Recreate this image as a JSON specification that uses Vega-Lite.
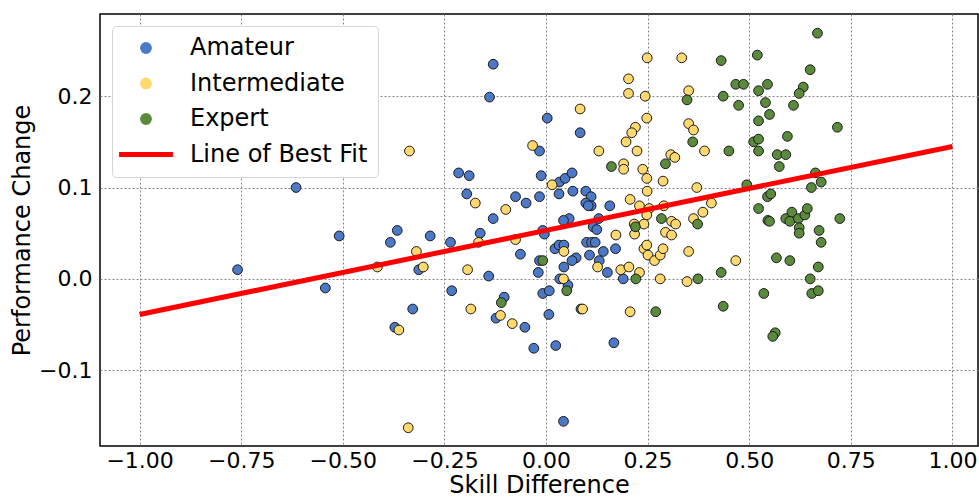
{
  "$schema": "https://vega.github.io/schema/vega-lite/v6.json",
  "autosize": {"type": "none"},
  "padding": {"left": 100, "top": 14, "right": 1, "bottom": 54},
  "width": 878,
  "height": 432,
  "background": "white",
  "config": {
    "font": "DejaVu Sans",
    "view": {"stroke": "black", "strokeWidth": 1.5},
    "axis": {
      "labelFont": "DejaVu Sans",
      "titleFont": "DejaVu Sans",
      "labelFontSize": 22,
      "titleFontSize": 24,
      "titleFontWeight": "normal",
      "labelColor": "black",
      "titleColor": "black",
      "domain": false,
      "ticks": false,
      "grid": true,
      "gridDash": [2, 2],
      "gridColor": "#888888",
      "gridWidth": 1
    }
  },
  "datasets": {
    "pts": [
      {"x": -0.615, "y": 0.100, "group": "Amateur"},
      {"x": -0.130, "y": 0.235, "group": "Amateur"},
      {"x": -0.139, "y": 0.199, "group": "Amateur"},
      {"x": 0.003, "y": 0.176, "group": "Amateur"},
      {"x": -0.016, "y": 0.140, "group": "Amateur"},
      {"x": -0.215, "y": 0.116, "group": "Amateur"},
      {"x": -0.189, "y": 0.113, "group": "Amateur"},
      {"x": -0.012, "y": 0.113, "group": "Amateur"},
      {"x": -0.195, "y": 0.093, "group": "Amateur"},
      {"x": -0.075, "y": 0.090, "group": "Amateur"},
      {"x": -0.049, "y": 0.083, "group": "Amateur"},
      {"x": -0.016, "y": 0.090, "group": "Amateur"},
      {"x": -0.130, "y": 0.066, "group": "Amateur"},
      {"x": -0.366, "y": 0.053, "group": "Amateur"},
      {"x": -0.509, "y": 0.047, "group": "Amateur"},
      {"x": -0.285, "y": 0.047, "group": "Amateur"},
      {"x": -0.162, "y": 0.050, "group": "Amateur"},
      {"x": -0.008, "y": 0.053, "group": "Amateur"},
      {"x": -0.004, "y": 0.049, "group": "Amateur"},
      {"x": -0.383, "y": 0.040, "group": "Amateur"},
      {"x": -0.235, "y": 0.040, "group": "Amateur"},
      {"x": -0.313, "y": 0.010, "group": "Amateur"},
      {"x": -0.063, "y": 0.027, "group": "Amateur"},
      {"x": -0.016, "y": 0.020, "group": "Amateur"},
      {"x": -0.019, "y": 0.007, "group": "Amateur"},
      {"x": -0.141, "y": 0.003, "group": "Amateur"},
      {"x": -0.543, "y": -0.010, "group": "Amateur"},
      {"x": -0.232, "y": -0.013, "group": "Amateur"},
      {"x": -0.008, "y": -0.016, "group": "Amateur"},
      {"x": 0.008, "y": -0.013, "group": "Amateur"},
      {"x": -0.328, "y": -0.033, "group": "Amateur"},
      {"x": -0.103, "y": -0.020, "group": "Amateur"},
      {"x": -0.123, "y": -0.043, "group": "Amateur"},
      {"x": -0.052, "y": -0.053, "group": "Amateur"},
      {"x": -0.372, "y": -0.053, "group": "Amateur"},
      {"x": -0.030, "y": -0.076, "group": "Amateur"},
      {"x": 0.007, "y": -0.039, "group": "Amateur"},
      {"x": -0.759, "y": 0.010, "group": "Amateur"},
      {"x": 0.084, "y": 0.160, "group": "Amateur"},
      {"x": 0.033, "y": 0.106, "group": "Amateur"},
      {"x": 0.047, "y": 0.110, "group": "Amateur"},
      {"x": 0.064, "y": 0.116, "group": "Amateur"},
      {"x": 0.032, "y": 0.093, "group": "Amateur"},
      {"x": 0.066, "y": 0.096, "group": "Amateur"},
      {"x": 0.098, "y": 0.096, "group": "Amateur"},
      {"x": 0.111, "y": 0.090, "group": "Amateur"},
      {"x": 0.098, "y": 0.083, "group": "Amateur"},
      {"x": 0.111, "y": 0.080, "group": "Amateur"},
      {"x": 0.104, "y": 0.080, "group": "Amateur"},
      {"x": 0.157, "y": 0.080, "group": "Amateur"},
      {"x": 0.130, "y": 0.066, "group": "Amateur"},
      {"x": 0.116, "y": 0.057, "group": "Amateur"},
      {"x": 0.125, "y": 0.054, "group": "Amateur"},
      {"x": 0.057, "y": 0.066, "group": "Amateur"},
      {"x": 0.043, "y": 0.064, "group": "Amateur"},
      {"x": 0.100, "y": 0.040, "group": "Amateur"},
      {"x": 0.112, "y": 0.040, "group": "Amateur"},
      {"x": 0.121, "y": 0.040, "group": "Amateur"},
      {"x": 0.022, "y": 0.033, "group": "Amateur"},
      {"x": 0.032, "y": 0.037, "group": "Amateur"},
      {"x": 0.044, "y": 0.037, "group": "Amateur"},
      {"x": 0.141, "y": 0.030, "group": "Amateur"},
      {"x": 0.171, "y": 0.033, "group": "Amateur"},
      {"x": 0.107, "y": 0.026, "group": "Amateur"},
      {"x": 0.074, "y": 0.023, "group": "Amateur"},
      {"x": 0.064, "y": 0.020, "group": "Amateur"},
      {"x": 0.131, "y": 0.020, "group": "Amateur"},
      {"x": 0.044, "y": 0.013, "group": "Amateur"},
      {"x": 0.151, "y": 0.007, "group": "Amateur"},
      {"x": 0.034, "y": 0.000, "group": "Amateur"},
      {"x": 0.054, "y": -0.007, "group": "Amateur"},
      {"x": 0.190, "y": 0.000, "group": "Amateur"},
      {"x": 0.086, "y": -0.033, "group": "Amateur"},
      {"x": 0.024, "y": -0.073, "group": "Amateur"},
      {"x": 0.167, "y": -0.070, "group": "Amateur"},
      {"x": 0.043, "y": -0.156, "group": "Amateur"},
      {"x": -0.336, "y": 0.140, "group": "Intermediate"},
      {"x": -0.033, "y": 0.146, "group": "Intermediate"},
      {"x": 0.015, "y": 0.103, "group": "Intermediate"},
      {"x": -0.174, "y": 0.083, "group": "Intermediate"},
      {"x": -0.099, "y": 0.076, "group": "Intermediate"},
      {"x": -0.166, "y": 0.040, "group": "Intermediate"},
      {"x": -0.075, "y": 0.043, "group": "Intermediate"},
      {"x": -0.319, "y": 0.030, "group": "Intermediate"},
      {"x": -0.415, "y": 0.013, "group": "Intermediate"},
      {"x": -0.302, "y": 0.013, "group": "Intermediate"},
      {"x": -0.193, "y": 0.010, "group": "Intermediate"},
      {"x": -0.185, "y": -0.033, "group": "Intermediate"},
      {"x": -0.112, "y": -0.040, "group": "Intermediate"},
      {"x": -0.083, "y": -0.049, "group": "Intermediate"},
      {"x": -0.362, "y": -0.056, "group": "Intermediate"},
      {"x": -0.339, "y": -0.163, "group": "Intermediate"},
      {"x": 0.249, "y": 0.242, "group": "Intermediate"},
      {"x": 0.334, "y": 0.242, "group": "Intermediate"},
      {"x": 0.203, "y": 0.219, "group": "Intermediate"},
      {"x": 0.203, "y": 0.203, "group": "Intermediate"},
      {"x": 0.244, "y": 0.200, "group": "Intermediate"},
      {"x": 0.351, "y": 0.206, "group": "Intermediate"},
      {"x": 0.084, "y": 0.186, "group": "Intermediate"},
      {"x": 0.248, "y": 0.176, "group": "Intermediate"},
      {"x": 0.220, "y": 0.166, "group": "Intermediate"},
      {"x": 0.211, "y": 0.160, "group": "Intermediate"},
      {"x": 0.197, "y": 0.150, "group": "Intermediate"},
      {"x": 0.351, "y": 0.170, "group": "Intermediate"},
      {"x": 0.363, "y": 0.163, "group": "Intermediate"},
      {"x": 0.390, "y": 0.140, "group": "Intermediate"},
      {"x": 0.130, "y": 0.140, "group": "Intermediate"},
      {"x": 0.224, "y": 0.140, "group": "Intermediate"},
      {"x": 0.307, "y": 0.136, "group": "Intermediate"},
      {"x": 0.317, "y": 0.133, "group": "Intermediate"},
      {"x": 0.191, "y": 0.126, "group": "Intermediate"},
      {"x": 0.191, "y": 0.120, "group": "Intermediate"},
      {"x": 0.238, "y": 0.120, "group": "Intermediate"},
      {"x": 0.248, "y": 0.110, "group": "Intermediate"},
      {"x": 0.288, "y": 0.107, "group": "Intermediate"},
      {"x": 0.249, "y": 0.096, "group": "Intermediate"},
      {"x": 0.371, "y": 0.100, "group": "Intermediate"},
      {"x": 0.207, "y": 0.087, "group": "Intermediate"},
      {"x": 0.230, "y": 0.080, "group": "Intermediate"},
      {"x": 0.290, "y": 0.080, "group": "Intermediate"},
      {"x": 0.254, "y": 0.077, "group": "Intermediate"},
      {"x": 0.407, "y": 0.083, "group": "Intermediate"},
      {"x": 0.386, "y": 0.073, "group": "Intermediate"},
      {"x": 0.363, "y": 0.066, "group": "Intermediate"},
      {"x": 0.309, "y": 0.063, "group": "Intermediate"},
      {"x": 0.319, "y": 0.060, "group": "Intermediate"},
      {"x": 0.248, "y": 0.070, "group": "Intermediate"},
      {"x": 0.241, "y": 0.060, "group": "Intermediate"},
      {"x": 0.217, "y": 0.060, "group": "Intermediate"},
      {"x": 0.218, "y": 0.049, "group": "Intermediate"},
      {"x": 0.172, "y": 0.048, "group": "Intermediate"},
      {"x": 0.294, "y": 0.051, "group": "Intermediate"},
      {"x": 0.309, "y": 0.048, "group": "Intermediate"},
      {"x": 0.044, "y": 0.030, "group": "Intermediate"},
      {"x": 0.127, "y": 0.013, "group": "Intermediate"},
      {"x": 0.184, "y": 0.010, "group": "Intermediate"},
      {"x": 0.204, "y": 0.013, "group": "Intermediate"},
      {"x": 0.230, "y": 0.007, "group": "Intermediate"},
      {"x": 0.241, "y": 0.033, "group": "Intermediate"},
      {"x": 0.248, "y": 0.037, "group": "Intermediate"},
      {"x": 0.251, "y": 0.026, "group": "Intermediate"},
      {"x": 0.267, "y": 0.020, "group": "Intermediate"},
      {"x": 0.281, "y": 0.026, "group": "Intermediate"},
      {"x": 0.288, "y": 0.033, "group": "Intermediate"},
      {"x": 0.351, "y": 0.030, "group": "Intermediate"},
      {"x": 0.467, "y": 0.020, "group": "Intermediate"},
      {"x": 0.043, "y": 0.000, "group": "Intermediate"},
      {"x": 0.281, "y": 0.000, "group": "Intermediate"},
      {"x": 0.347, "y": -0.003, "group": "Intermediate"},
      {"x": 0.090, "y": -0.033, "group": "Intermediate"},
      {"x": 0.207, "y": -0.036, "group": "Intermediate"},
      {"x": -0.008, "y": 0.020, "group": "Expert"},
      {"x": -0.110, "y": -0.026, "group": "Expert"},
      {"x": 0.431, "y": 0.239, "group": "Expert"},
      {"x": 0.520, "y": 0.245, "group": "Expert"},
      {"x": 0.347, "y": 0.196, "group": "Expert"},
      {"x": 0.436, "y": 0.200, "group": "Expert"},
      {"x": 0.467, "y": 0.213, "group": "Expert"},
      {"x": 0.486, "y": 0.213, "group": "Expert"},
      {"x": 0.474, "y": 0.190, "group": "Expert"},
      {"x": 0.523, "y": 0.206, "group": "Expert"},
      {"x": 0.545, "y": 0.213, "group": "Expert"},
      {"x": 0.540, "y": 0.193, "group": "Expert"},
      {"x": 0.550, "y": 0.180, "group": "Expert"},
      {"x": 0.523, "y": 0.173, "group": "Expert"},
      {"x": 0.361, "y": 0.150, "group": "Expert"},
      {"x": 0.511, "y": 0.150, "group": "Expert"},
      {"x": 0.523, "y": 0.153, "group": "Expert"},
      {"x": 0.523, "y": 0.140, "group": "Expert"},
      {"x": 0.450, "y": 0.140, "group": "Expert"},
      {"x": 0.294, "y": 0.126, "group": "Expert"},
      {"x": 0.161, "y": 0.123, "group": "Expert"},
      {"x": 0.494, "y": 0.103, "group": "Expert"},
      {"x": 0.523, "y": 0.077, "group": "Expert"},
      {"x": 0.545, "y": 0.090, "group": "Expert"},
      {"x": 0.546, "y": 0.064, "group": "Expert"},
      {"x": 0.284, "y": 0.066, "group": "Expert"},
      {"x": 0.373, "y": 0.060, "group": "Expert"},
      {"x": 0.220, "y": 0.057, "group": "Expert"},
      {"x": 0.051, "y": -0.013, "group": "Expert"},
      {"x": 0.221, "y": 0.000, "group": "Expert"},
      {"x": 0.374, "y": 0.000, "group": "Expert"},
      {"x": 0.431, "y": 0.007, "group": "Expert"},
      {"x": 0.270, "y": -0.036, "group": "Expert"},
      {"x": 0.436, "y": -0.030, "group": "Expert"},
      {"x": 0.536, "y": -0.016, "group": "Expert"},
      {"x": 0.668, "y": 0.269, "group": "Expert"},
      {"x": 0.650, "y": 0.229, "group": "Expert"},
      {"x": 0.633, "y": 0.210, "group": "Expert"},
      {"x": 0.623, "y": 0.203, "group": "Expert"},
      {"x": 0.609, "y": 0.190, "group": "Expert"},
      {"x": 0.717, "y": 0.166, "group": "Expert"},
      {"x": 0.594, "y": 0.156, "group": "Expert"},
      {"x": 0.569, "y": 0.136, "group": "Expert"},
      {"x": 0.590, "y": 0.136, "group": "Expert"},
      {"x": 0.574, "y": 0.123, "group": "Expert"},
      {"x": 0.663, "y": 0.116, "group": "Expert"},
      {"x": 0.677, "y": 0.106, "group": "Expert"},
      {"x": 0.653, "y": 0.100, "group": "Expert"},
      {"x": 0.553, "y": 0.093, "group": "Expert"},
      {"x": 0.550, "y": 0.063, "group": "Expert"},
      {"x": 0.590, "y": 0.066, "group": "Expert"},
      {"x": 0.605, "y": 0.073, "group": "Expert"},
      {"x": 0.600, "y": 0.063, "group": "Expert"},
      {"x": 0.621, "y": 0.066, "group": "Expert"},
      {"x": 0.637, "y": 0.070, "group": "Expert"},
      {"x": 0.643, "y": 0.077, "group": "Expert"},
      {"x": 0.623, "y": 0.056, "group": "Expert"},
      {"x": 0.623, "y": 0.050, "group": "Expert"},
      {"x": 0.672, "y": 0.053, "group": "Expert"},
      {"x": 0.723, "y": 0.066, "group": "Expert"},
      {"x": 0.677, "y": 0.040, "group": "Expert"},
      {"x": 0.567, "y": 0.023, "group": "Expert"},
      {"x": 0.600, "y": 0.020, "group": "Expert"},
      {"x": 0.670, "y": 0.013, "group": "Expert"},
      {"x": 0.650, "y": 0.000, "group": "Expert"},
      {"x": 0.654, "y": -0.016, "group": "Expert"},
      {"x": 0.670, "y": -0.013, "group": "Expert"},
      {"x": 0.564, "y": -0.059, "group": "Expert"},
      {"x": 0.558, "y": -0.063, "group": "Expert"}
    ],
    "fit": [
      {"x": -1.0, "y": -0.039, "group": "Line of Best Fit"},
      {"x": 1.0, "y": 0.145, "group": "Line of Best Fit"}
    ]
  },
  "layer": [
    {
      "mark": {"type": "rule", "color": "#666666", "strokeWidth": 2},
      "encoding": {"x": {"datum": 0, "type": "quantitative", "scale": {"domain": [-1.0975, 1.063], "nice": false, "zero": false}}}
    },
    {
      "mark": {"type": "rule", "color": "#666666", "strokeWidth": 2},
      "encoding": {"y": {"datum": 0, "type": "quantitative", "scale": {"domain": [-0.183, 0.29], "nice": false, "zero": false}}}
    },
    {
      "data": {"name": "pts"},
      "mark": {"type": "circle", "size": 95, "opacity": 1, "stroke": "#1a1a1a", "strokeWidth": 1},
      "encoding": {
        "x": {
          "field": "x", "type": "quantitative",
          "scale": {"domain": [-1.0975, 1.063], "nice": false, "zero": false},
          "axis": {"title": "Skill Difference", "values": [-1, -0.75, -0.5, -0.25, 0, 0.25, 0.5, 0.75, 1], "format": ".2f", "labelPadding": 4, "titlePadding": 2}
        },
        "y": {
          "field": "y", "type": "quantitative",
          "scale": {"domain": [-0.183, 0.29], "nice": false, "zero": false},
          "axis": {"title": "Performance Change", "values": [-0.1, 0, 0.1, 0.2], "format": ".1f", "labelPadding": 8, "titlePadding": 4}
        },
        "color": {
          "field": "group", "type": "nominal",
          "scale": {"domain": ["Amateur", "Intermediate", "Expert", "Line of Best Fit"], "range": ["#4C78C8", "#FFD86E", "#5A8A3C", "#FF0000"]},
          "legend": {
            "title": null, "orient": "top-left", "offset": 12, "padding": 10, "rowPadding": 11.5,
            "symbolOffset": 12, "labelOffset": 32, "labelFontSize": 24, "labelFont": "DejaVu Sans", "labelColor": "black", "labelLimit": 0,
            "fillColor": "white", "strokeColor": "#d6d6d6", "cornerRadius": 4,
            "symbolOpacity": 1,
            "symbolType": {"expr": "datum.value === 'Line of Best Fit' ? 'stroke' : 'circle'"},
            "symbolSize": {"expr": "datum.value === 'Line of Best Fit' ? 2900 : 110"},
            "symbolStrokeWidth": {"expr": "datum.value === 'Line of Best Fit' ? 5 : 1.3"},
            "symbolStrokeColor": {"expr": "datum.value === 'Line of Best Fit' ? '#ff0000' : '#111111'"}
          }
        }
      }
    },
    {
      "data": {"name": "fit"},
      "mark": {"type": "line", "strokeWidth": 5},
      "encoding": {
        "x": {"field": "x", "type": "quantitative"},
        "y": {"field": "y", "type": "quantitative"},
        "color": {"field": "group", "type": "nominal", "legend": null}
      }
    }
  ]
}
